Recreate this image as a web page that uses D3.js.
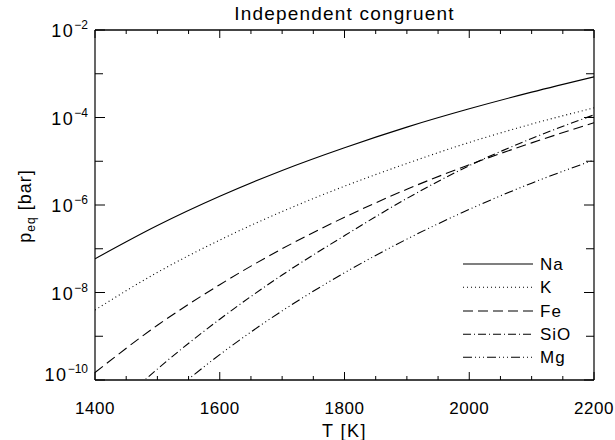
<!DOCTYPE html>
<html><head><meta charset="utf-8">
<script src="https://cdn.jsdelivr.net/npm/d3@7"></script>
<style>body{margin:0;background:#fff}svg{display:block}text{font-family:"Liberation Sans","DejaVu Sans",sans-serif;fill:#000}</style>
</head><body><svg id="c" width="615" height="440"></svg>
<script>
const title = "Independent congruent";
const xLabel = "T [K]";
const xTicks = [1400, 1600, 1800, 2000, 2200];
const yTickExps = [-2, -4, -6, -8, -10];
const seriesNames = ["Na", "K", "Fe", "SiO", "Mg"];
const tNa  = [1400, 1500, 1600, 1700, 1800, 1900, 2000, 2100, 2200];
const pNa  = [5.89e-8, 3.39e-7, 1.58e-6, 6.17e-6, 2.04e-5, 6.03e-5, 1.58e-4, 3.80e-4, 8.51e-4];
const tK   = [1400, 1500, 1600, 1700, 1800, 1900, 2000, 2100, 2200];
const pK   = [3.98e-9, 2.88e-8, 1.58e-7, 7.08e-7, 2.69e-6, 8.91e-6, 2.69e-5, 7.08e-5, 1.66e-4];
const tFe  = [1400, 1500, 1600, 1700, 1800, 1900, 2000, 2100, 2200];
const pFe  = [1.48e-10, 1.78e-9, 1.51e-8, 1.0e-7, 5.25e-7, 2.29e-6, 8.32e-6, 2.63e-5, 7.59e-5];
const tSiO = [1450, 1500, 1600, 1700, 1800, 1900, 2000, 2100, 2200];
const pSiO = [4.17e-11, 1.78e-10, 2.45e-9, 2.51e-8, 1.99e-7, 1.41e-6, 7.94e-6, 3.31e-5, 1.15e-4];
const tMg  = [1500, 1600, 1700, 1800, 1900, 2000, 2100, 2200];
const pMg  = [2.69e-11, 3.80e-10, 3.80e-9, 2.82e-8, 1.66e-7, 7.94e-7, 3.16e-6, 1.07e-5];

const dashes = ["", "1,3", "10,5", "8,3,1,3", "9,3,1,3,1,3,1,3"];
const series = [[tNa,pNa],[tK,pK],[tFe,pFe],[tSiO,pSiO],[tMg,pMg]].map((d,i)=>({
  name: seriesNames[i], dash: dashes[i], pts: d[0].map((t,j)=>[t, d[1][j]])
}));

const L=95, R=594, T=30, B=380;
const svg = d3.select("#c");
const x = d3.scaleLinear().domain([1400,2200]).range([L,R]);
const y = d3.scaleLog().domain([1e-10,1e-2]).range([B,T]);

svg.append("defs").append("clipPath").attr("id","clip")
  .append("rect").attr("x",L).attr("y",T).attr("width",R-L).attr("height",B-T);

const line = d3.line().x(d=>x(d[0])).y(d=>y(d[1])).curve(d3.curveMonotoneX);
const g = svg.append("g").attr("clip-path","url(#clip)");
series.forEach(s=>{
  g.append("path").attr("d", line(s.pts)).attr("fill","none").attr("stroke","#000")
   .attr("stroke-width",1.1).attr("stroke-dasharray", s.dash || null);
});

// frame
svg.append("line").attr("x1",L).attr("x2",R).attr("y1",B).attr("y2",B).attr("stroke","#444").attr("stroke-width",2);
svg.append("line").attr("x1",L).attr("x2",R).attr("y1",T).attr("y2",T).attr("stroke","#444").attr("stroke-width",2);
svg.append("line").attr("x1",L).attr("x2",L).attr("y1",T).attr("y2",B).attr("stroke","#000").attr("stroke-width",1.2);
svg.append("line").attr("x1",R).attr("x2",R).attr("y1",T).attr("y2",B).attr("stroke","#000").attr("stroke-width",1.2);

// x ticks
const xMinor = d3.range(1400, 2201, 50);
xMinor.forEach(v=>{
  const major = xTicks.includes(v);
  const len = major ? 8 : 4;
  svg.append("line").attr("x1",x(v)).attr("x2",x(v)).attr("y1",B).attr("y2",B-len).attr("stroke","#000");
  svg.append("line").attr("x1",x(v)).attr("x2",x(v)).attr("y1",T).attr("y2",T+len).attr("stroke","#000");
});
xTicks.forEach(v=>{
  svg.append("text").attr("x",x(v)).attr("y",414).attr("text-anchor","middle")
    .attr("font-size",17).attr("letter-spacing",0.5).text(v);
});
svg.append("text").attr("x",(L+R)/2).attr("y",437).attr("text-anchor","middle").attr("font-size",18)
  .attr("letter-spacing",1.5).text(xLabel);

// y ticks
d3.range(-10,-1).forEach(e=>{
  const v = Math.pow(10,e);
  const major = yTickExps.includes(e);
  const len = major ? 10 : 8;
  svg.append("line").attr("x1",L).attr("x2",L+len).attr("y1",y(v)).attr("y2",y(v)).attr("stroke","#000");
  svg.append("line").attr("x1",R).attr("x2",R-len).attr("y1",y(v)).attr("y2",y(v)).attr("stroke","#000");
});
yTickExps.forEach(e=>{
  const yy = y(Math.pow(10,e)) + (e===-10 ? -6 : 0);
  const t = svg.append("text").attr("x",88).attr("y",yy+7).attr("text-anchor","end").attr("font-size",18);
  t.append("tspan").attr("letter-spacing",1.5).text("10");
  t.append("tspan").attr("dy",-8).attr("font-size",12).text("\u2212"+(-e));
});
// y label
const yl = svg.append("text").attr("transform","translate(31,206) rotate(-90)").attr("text-anchor","middle").attr("font-size",18).attr("letter-spacing",1);
yl.append("tspan").text("p");
yl.append("tspan").attr("dy",4).attr("font-size",12).text("eq");
yl.append("tspan").attr("dy",-4).text(" [bar]");

// title
svg.append("text").attr("x",(L+R)/2).attr("y",20).attr("text-anchor","middle").attr("font-size",19)
  .attr("letter-spacing",1.2).text(title);

// legend
const legY = [264, 287.3, 311, 334.3, 357.3];
series.forEach((s,i)=>{
  svg.append("line").attr("x1",463).attr("x2",533).attr("y1",legY[i]).attr("y2",legY[i])
    .attr("stroke","#000").attr("stroke-width",1.1).attr("stroke-dasharray", s.dash || null);
  svg.append("text").attr("x",540).attr("y",legY[i]+6).attr("font-size",17).attr("letter-spacing",1).text(s.name);
});
</script></body></html>
